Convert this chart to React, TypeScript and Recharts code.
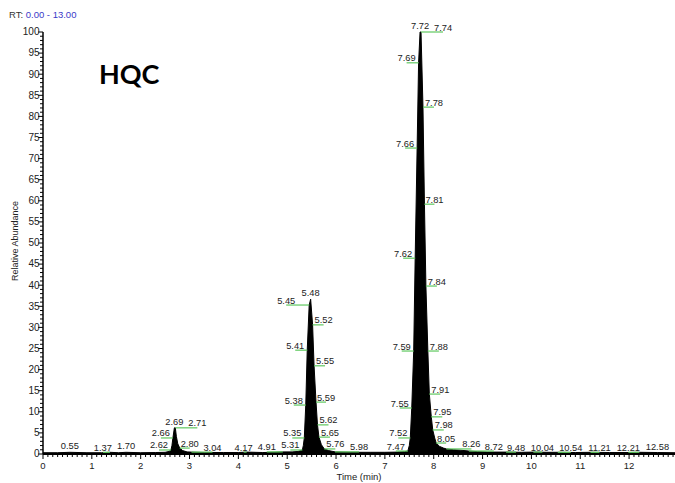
import React from 'react';
import { ComposedChart, Area, Scatter, XAxis, YAxis } from 'recharts';

// Chromatogram trace (time in min, relative abundance in %)
const traceTimes = [
  0, 0.3, 0.55, 0.9, 1.2, 1.37, 1.55, 1.7, 2.0, 2.3,
  2.5, 2.58, 2.62, 2.64, 2.66, 2.69, 2.71, 2.73, 2.76, 2.8,
  2.86, 2.95, 3.04, 3.3, 3.7, 4.0, 4.17, 4.5, 4.75, 4.91,
  5.1, 5.22, 5.28, 5.31, 5.33, 5.35, 5.38, 5.41, 5.45, 5.48,
  5.52, 5.55, 5.59, 5.62, 5.65, 5.7, 5.76, 5.85, 5.98, 6.3,
  6.7, 7.0, 7.25, 7.4, 7.47, 7.5, 7.52, 7.55, 7.59, 7.62,
  7.66, 7.69, 7.72, 7.74, 7.78, 7.81, 7.84, 7.88, 7.91, 7.95,
  7.98, 8.02, 8.05, 8.12, 8.2, 8.26, 8.4, 8.55, 8.72, 8.9,
  9.1, 9.48, 9.8, 10.04, 10.3, 10.54, 10.9, 11.21, 11.6, 12.0,
  12.21, 12.58, 12.94,
];
const traceValues = [
  0.3, 0.3, 0.4, 0.3, 0.3, 0.4, 0.3, 0.4, 0.3, 0.35,
  0.4, 0.6, 0.95, 2.0, 3.8, 6.2, 6.2, 4.2, 2.4, 1.4,
  0.8, 0.5, 0.45, 0.35, 0.35, 0.35, 0.45, 0.35, 0.4, 0.5,
  0.5, 0.6, 0.8, 0.95, 2.0, 3.8, 11.6, 24.6, 35.3, 36.7,
  30.6, 20.9, 12.3, 6.9, 4.0, 2.2, 1.2, 0.8, 0.5, 0.4,
  0.4, 0.4, 0.45, 0.55, 0.7, 2.0, 3.8, 10.9, 24.4, 46.4,
  72.5, 92.7, 100, 100, 82.2, 59.2, 39.8, 24.4, 14.2, 8.8,
  5.7, 3.8, 2.6, 1.8, 1.4, 1.2, 1.0, 0.9, 0.7, 0.55,
  0.45, 0.45, 0.4, 0.45, 0.4, 0.4, 0.35, 0.4, 0.35, 0.35,
  0.4, 0.35, 0.3,
];

// Retention-time annotations
const labelTimes = [
  0.55, 1.37, 1.7, 2.62, 2.66, 2.69, 2.71, 2.8, 3.04, 4.17,
  4.91, 5.31, 5.35, 5.38, 5.41, 5.45, 5.48, 5.52, 5.55, 5.59,
  5.62, 5.65, 5.76, 5.98, 7.47, 7.52, 7.55, 7.59, 7.62, 7.66,
  7.69, 7.72, 7.74, 7.78, 7.81, 7.84, 7.88, 7.91, 7.95, 7.98,
  8.05, 8.26, 8.72, 9.48, 10.04, 10.54, 11.21, 12.21, 12.58,
];
const labelValues = [
  0.4, 0.4, 0.4, 0.95, 3.8, 6.2, 6.2, 1.4, 0.45, 0.45,
  0.5, 0.95, 3.8, 11.6, 24.6, 35.3, 36.7, 30.6, 20.9, 12.3,
  6.9, 4.0, 1.2, 0.5, 0.7, 3.8, 10.9, 24.4, 46.4, 72.5,
  92.7, 100, 100, 82.2, 59.2, 39.8, 24.4, 14.2, 8.8, 5.7,
  2.6, 1.2, 0.7, 0.45, 0.45, 0.4, 0.4, 0.4, 0.35,
];
// horizontal offset of each annotation text from its point (layout only)
const labelDx = [
  0, -7, 0, -12, -12, 0, 22, 10, 21, -3,
  -16, -12, -12, -12, -12, -23, 0, 11, 11, 10,
  11, 11, 11, 24, -12, -12, -12, -12, -12, -12,
  -12, 0, 22, 11, 10, 11, 11, 11, 11, 11,
  10, 25, 25, 10, 9, 13, 9, -11, 0,
];

const xMajor = [0, 1, 2, 3, 4, 5, 6, 7, 8, 9, 10, 11, 12];
const yMajor = [0, 5, 10, 15, 20, 25, 30, 35, 40, 45, 50, 55, 60, 65, 70, 75, 80, 85, 90, 95, 100];

const traceData = traceTimes.map((t, i) => ({ t, v: traceValues[i] }));
const labelData = labelTimes.map((t, i) => ({ t, v: labelValues[i], dx: labelDx[i] }));

const xTicks = Array.from({ length: 130 }, (_, i) => i / 10);
const yTicks = Array.from({ length: 101 }, (_, i) => i);

const FONT = '"Liberation Sans", Arial, sans-serif';
const TEXT = '#222';
const GREEN = '#5fc85f';

const XTick = (props: any) => {
  const { x, y, payload } = props;
  const major = xMajor.includes(Math.round(payload.value * 10) / 10);
  return (
    <g>
      <line x1={x} x2={x} y1={y} y2={y + (major ? 5 : 3)} stroke="#000" strokeWidth={1} />
      {major && (
        <text x={x} y={y + 15} textAnchor="middle" fontSize={9.5} fontFamily={FONT} fill={TEXT}>
          {payload.value}
        </text>
      )}
    </g>
  );
};

const YTick = (props: any) => {
  const { x, y, payload } = props;
  const major = yMajor.includes(payload.value);
  return (
    <g>
      <line x1={x - (major ? 5 : 3)} x2={x} y1={y} y2={y} stroke="#000" strokeWidth={1} />
      {major && (
        <text x={x - 3.5} y={y + 3.3} textAnchor="end" fontSize={10} fontFamily={FONT} fill={TEXT}>
          {payload.value}
        </text>
      )}
    </g>
  );
};

const PeakLabel = (props: any) => {
  const { cx, cy, payload } = props;
  const dx = payload.dx;
  const tx = cx + dx;
  return (
    <g>
      {dx !== 0 && <line x1={cx} x2={tx} y1={cy} y2={cy} stroke={GREEN} strokeWidth={1.2} />}
      <text
        x={tx}
        y={dx === 0 ? cy - 3 : cy - 1.5}
        textAnchor="middle"
        fontSize={9.3}
        fontFamily={FONT}
        fill={TEXT}
      >
        {payload.t.toFixed(2)}
      </text>
    </g>
  );
};

export default function App() {
  return (
    <div style={{ position: 'relative', width: 675, height: 483, overflow: 'hidden', background: '#fff' }}>
      <style>{'body{margin:0}'}</style>
      <ComposedChart width={675} height={483} margin={{ top: 32, right: 0, bottom: 0, left: 0 }}>
        <XAxis
          dataKey="t"
          type="number"
          domain={[0, 12.94]}
          ticks={xTicks}
          interval={0}
          tick={<XTick />}
          tickSize={0}
          tickMargin={0}
          tickLine={false}
          axisLine={{ stroke: '#000', strokeWidth: 2 }}
          height={29}
        />
        <YAxis
          type="number"
          domain={[0, 100]}
          ticks={yTicks}
          interval={0}
          tick={<YTick />}
          tickSize={0}
          tickMargin={0}
          tickLine={false}
          axisLine={{ stroke: '#000', strokeWidth: 1.5 }}
          width={43}
        />
        <Area
          data={traceData}
          dataKey="v"
          type="linear"
          stroke="#000"
          strokeWidth={1}
          fill="#000"
          fillOpacity={1}
          baseValue={0}
          isAnimationActive={false}
          dot={false}
          activeDot={false}
        />
        <Scatter data={labelData} dataKey="v" shape={<PeakLabel />} isAnimationActive={false} />
      </ComposedChart>
      <div style={{ position: 'absolute', left: 9, top: 9, fontFamily: FONT, fontSize: 9.5, color: '#333' }}>
        RT: <span style={{ color: '#3a3ac8' }}>0.00 - 13.00</span>
      </div>
      <div
        style={{
          position: 'absolute',
          left: 99,
          top: 58,
          fontFamily: 'Lato, "Open Sans", sans-serif',
          fontWeight: 700,
          fontSize: 27,
          color: '#000',
          lineHeight: '32px',
        }}
      >
        HQC
      </div>
      <div
        style={{
          position: 'absolute',
          left: 15,
          top: 241,
          transform: 'translate(-50%, -50%) rotate(-90deg)',
          fontFamily: FONT,
          fontSize: 9,
          color: TEXT,
          whiteSpace: 'nowrap',
        }}
      >
        Relative Abundance
      </div>
      <div
        style={{
          position: 'absolute',
          left: 359,
          top: 476,
          transform: 'translate(-50%, -50%)',
          fontFamily: FONT,
          fontSize: 9.5,
          color: TEXT,
          whiteSpace: 'nowrap',
        }}
      >
        Time (min)
      </div>
    </div>
  );
}
